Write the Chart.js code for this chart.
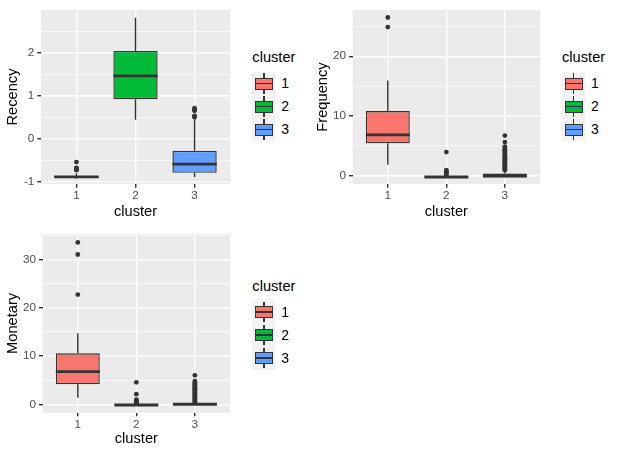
<!DOCTYPE html>
<html>
<head>
<meta charset="utf-8">
<script src="https://cdn.jsdelivr.net/npm/chart.js@4.4.1/dist/chart.umd.min.js"></script>
<style>
  body { margin: 0; background: #fff; }
  #wrap { position: relative; width: 620px; height: 455px; overflow: hidden;
          font-family: "Liberation Sans", Arial, sans-serif; }
  #wrap canvas { position: absolute; }
  .lg-title { position: absolute; font-size: 14.67px; line-height: 17px; color: #000; white-space: nowrap; }
  .lg-key { position: absolute; width: 23px; height: 23px; background: #F2F2F2; }
  .lg-key .wh { position: absolute; left: 11px; top: 1.3px; width: 1.42px; height: 20.4px; background: #333; }
  .lg-key .bx { position: absolute; left: 3px; top: 5.5px; width: 17.7px; height: 12px;
                box-sizing: border-box; border: 1.42px solid #333; }
  .lg-key .md { position: absolute; left: 3px; top: 10.8px; width: 17.7px; height: 1.42px; background: #333; }
  .lg-label { position: absolute; font-size: 14px; line-height: 17px; color: #000; }
</style>
</head>
<body>
<div id="wrap">
  <canvas id="recency" width="245" height="228" style="left:0px;top:0px"></canvas>
  <canvas id="frequency" width="245" height="228" style="left:310px;top:0px"></canvas>
  <canvas id="monetary" width="245" height="235" style="left:0px;top:220px"></canvas>
</div>
<script>
// ---- data ----
const clusters = ['1', '2', '3'];
const clusterFills = ['#F8766D', '#00BA38', '#619CFF'];

const recencyTicks = [-1, -0.5, 0, 0.5, 1, 1.5, 2, 2.5];
const recencyLow = [-0.93, 0.44, -0.89];
const recencyQ1 = [-0.91, 0.92, -0.79];
const recencyMedian = [-0.885, 1.46, -0.59];
const recencyQ3 = [-0.865, 2.04, -0.28];
const recencyHigh = [-0.80, 2.81, 0.45];
const recencyOut1 = [-0.73, -0.71, -0.69, -0.675, -0.54];
const recencyOut2 = [];
const recencyOut3 = [0.50, 0.52, 0.53, 0.65, 0.67, 0.69, 0.71];

const frequencyTicks = [0, 5, 10, 15, 20, 25];
const frequencyLow = [1.8, -0.4, -0.35];
const frequencyQ1 = [5.41, -0.35, -0.28];
const frequencyMedian = [6.82, -0.25, -0.12];
const frequencyQ3 = [10.82, -0.15, 0.32];
const frequencyHigh = [15.95, -0.05, 0.75];
const frequencyOut1 = [24.9, 26.5];
const frequencyOut2 = [0.1, 0.3, 0.5, 0.7, 0.9, 3.93];
const frequencyOut3 = [0.9, 1.0, 1.2, 1.3, 1.5, 1.7, 1.8, 2.0, 2.2, 2.3, 2.5, 2.7, 2.9, 3.0,
                       3.2, 3.4, 3.6, 3.8, 4.0, 4.2, 4.4, 4.6, 4.85, 5.6, 6.7];

const monetaryTicks = [0, 5, 10, 15, 20, 25, 30, 35];
const monetaryLow = [1.37, -0.3, -0.15];
const monetaryQ1 = [4.14, -0.25, -0.1];
const monetaryMedian = [6.75, -0.15, 0.0];
const monetaryQ3 = [10.55, -0.05, 0.15];
const monetaryHigh = [14.69, 0.1, 0.35];
const monetaryOut1 = [22.7, 31.0, 33.5];
const monetaryOut2 = [0.2, 0.4, 0.55, 0.7, 0.85, 0.95, 2.1, 4.55];
const monetaryOut3 = [0.4, 0.6, 0.8, 1.0, 1.2, 1.4, 1.6, 1.8, 2.0, 2.2, 2.4, 2.6, 2.9, 3.1,
                      3.3, 3.5, 3.7, 3.9, 4.1, 4.3, 4.5, 4.8, 6.0];

// ---- styles (ggplot grey theme at 96 dpi) ----
const FONT = '"Liberation Sans", Arial, sans-serif';
const INK = '#333333';
const LW = 1.42;

// gray panel + whiskers + medians, all placed through the chart scales
const boxplotPlugin = {
  id: 'boxplot',
  beforeDraw(chart) {
    const {ctx, chartArea: a} = chart;
    ctx.save();
    ctx.fillStyle = '#EBEBEB';
    ctx.fillRect(a.left, a.top, a.right - a.left, a.bottom - a.top);
    ctx.restore();
  },
  beforeDatasetsDraw(chart, args, opts) {
    const {ctx, scales: {x, y}} = chart;
    ctx.save();
    ctx.strokeStyle = INK;
    ctx.lineWidth = LW;
    clusters.forEach((c, i) => {
      const px = x.getPixelForValue(i + 1);
      ctx.beginPath();
      ctx.moveTo(px, y.getPixelForValue(opts.low[i]));
      ctx.lineTo(px, y.getPixelForValue(opts.q1[i]));
      ctx.moveTo(px, y.getPixelForValue(opts.q3[i]));
      ctx.lineTo(px, y.getPixelForValue(opts.high[i]));
      ctx.stroke();
    });
    ctx.restore();
  },
  afterDatasetDraw(chart, args, opts) {
    if (args.meta.type !== 'bar') return;
    const {ctx, scales: {y}} = chart;
    ctx.save();
    ctx.strokeStyle = INK;
    ctx.lineWidth = LW * 2;
    args.meta.data.forEach((bar, i) => {
      const {x, width} = bar.getProps(['x', 'width'], true);
      const py = y.getPixelForValue(opts.median[i]);
      ctx.beginPath();
      ctx.moveTo(x - width / 2, py);
      ctx.lineTo(x + width / 2, py);
      ctx.stroke();
    });
    ctx.restore();
  }
};

function buildPanel(p) {
  const canvas = document.getElementById(p.id);
  const H = canvas.height, W = canvas.width;
  const points = [];
  p.outliers.forEach((list, i) => list.forEach(v => points.push({x: i + 1, y: v})));
  const isMajor = v => Math.abs(v / p.major - Math.round(v / p.major)) < 1e-6;

  new Chart(canvas, {
    type: 'bar',
    plugins: [boxplotPlugin],
    data: {
      datasets: [
        {
          type: 'scatter',
          data: points,
          pointRadius: 2.4,
          pointHoverRadius: 2.4,
          backgroundColor: INK,
          borderWidth: 0
        },
        {
          type: 'bar',
          data: clusters.map((c, i) => ({x: i + 1, y: [p.q1[i], p.q3[i]]})),
          backgroundColor: clusterFills,
          borderColor: INK,
          borderWidth: LW,
          borderSkipped: false,
          inflateAmount: 0,
          categoryPercentage: 1,
          barPercentage: 0.75
        }
      ]
    },
    options: {
      responsive: false,
      animation: false,
      devicePixelRatio: 1,
      events: [],
      layout: {padding: {left: 0, top: p.plotTop, right: W - p.plotRight, bottom: 0}},
      plugins: {
        legend: {display: false},
        tooltip: {enabled: false},
        boxplot: {low: p.low, q1: p.q1, median: p.median, q3: p.q3, high: p.high}
      },
      scales: {
        x: {
          type: 'linear',
          min: 0.4,
          max: 3.6,
          offset: false,
          afterBuildTicks: s => { s.ticks = clusters.map((c, i) => ({value: i + 1})); },
          afterFit: s => { s.height = H - p.plotBottom; },
          border: {display: false},
          grid: {offset: false, color: '#FFFFFF', lineWidth: LW, tickColor: INK, tickWidth: LW, tickLength: 3.67},
          ticks: {
            callback: v => clusters[v - 1],
            color: '#4D4D4D',
            padding: 1.2,
            maxRotation: 0,
            font: {family: FONT, size: 11.73}
          },
          title: {
            display: true,
            text: 'cluster',
            color: '#000',
            font: {family: FONT, size: 14.67, lineHeight: 1.2},
            padding: {top: 0, bottom: 7.5}
          }
        },
        y: {
          type: 'linear',
          min: p.min,
          max: p.max,
          afterBuildTicks: s => { s.ticks = p.ticks.map(v => ({value: v})); },
          afterFit: s => { s.width = p.plotLeft; },
          border: {display: false},
          grid: {
            color: '#FFFFFF',
            lineWidth: c => isMajor(c.tick.value) ? LW : LW / 2,
            tickColor: c => isMajor(c.tick.value) ? INK : 'rgba(0,0,0,0)',
            tickWidth: LW,
            tickLength: 3.67
          },
          ticks: {
            callback: v => isMajor(v) ? String(v) : '',
            color: '#4D4D4D',
            padding: 3,
            font: {family: FONT, size: 11.73}
          },
          title: {
            display: true,
            text: p.title,
            color: '#000',
            font: {family: FONT, size: 14.67, lineHeight: 1.2},
            padding: {top: 3.9, bottom: 0}
          }
        }
      }
    }
  });
}

function buildLegend(left, titleTop, keyTop) {
  const wrap = document.getElementById('wrap');
  const t = document.createElement('div');
  t.className = 'lg-title';
  t.textContent = 'cluster';
  t.style.left = left + 'px';
  t.style.top = titleTop + 'px';
  wrap.appendChild(t);
  clusters.forEach((c, i) => {
    const top = keyTop + i * 23;
    const k = document.createElement('div');
    k.className = 'lg-key';
    k.style.left = left + 'px';
    k.style.top = top + 'px';
    k.innerHTML = '<div class="wh"></div><div class="bx" style="background:' + clusterFills[i] +
      '"></div><div class="md"></div>';
    wrap.appendChild(k);
    const l = document.createElement('div');
    l.className = 'lg-label';
    l.textContent = c;
    l.style.left = (left + 29) + 'px';
    l.style.top = (top + 11.5 - 8.5) + 'px';
    wrap.appendChild(l);
  });
}

buildPanel({
  id: 'recency', title: 'Recency', major: 1,
  min: -1.05, max: 2.99, ticks: recencyTicks,
  low: recencyLow, q1: recencyQ1, median: recencyMedian, q3: recencyQ3, high: recencyHigh,
  outliers: [recencyOut1, recencyOut2, recencyOut3],
  plotLeft: 41, plotTop: 7, plotRight: 230, plotBottom: 184
});
buildPanel({
  id: 'frequency', title: 'Frequency', major: 10,
  min: -1.43, max: 27.75, ticks: frequencyTicks,
  low: frequencyLow, q1: frequencyQ1, median: frequencyMedian, q3: frequencyQ3, high: frequencyHigh,
  outliers: [frequencyOut1, frequencyOut2, frequencyOut3],
  plotLeft: 42.7, plotTop: 7, plotRight: 230, plotBottom: 184
});
buildPanel({
  id: 'monetary', title: 'Monetary', major: 10,
  min: -1.74, max: 35.24, ticks: monetaryTicks,
  low: monetaryLow, q1: monetaryQ1, median: monetaryMedian, q3: monetaryQ3, high: monetaryHigh,
  outliers: [monetaryOut1, monetaryOut2, monetaryOut3],
  plotLeft: 42.7, plotTop: 14, plotRight: 230, plotBottom: 192.7
});

buildLegend(252.3, 48.7, 72.2);
buildLegend(562, 48.7, 72.2);
buildLegend(252.3, 278, 300.5);
</script>
</body>
</html>
